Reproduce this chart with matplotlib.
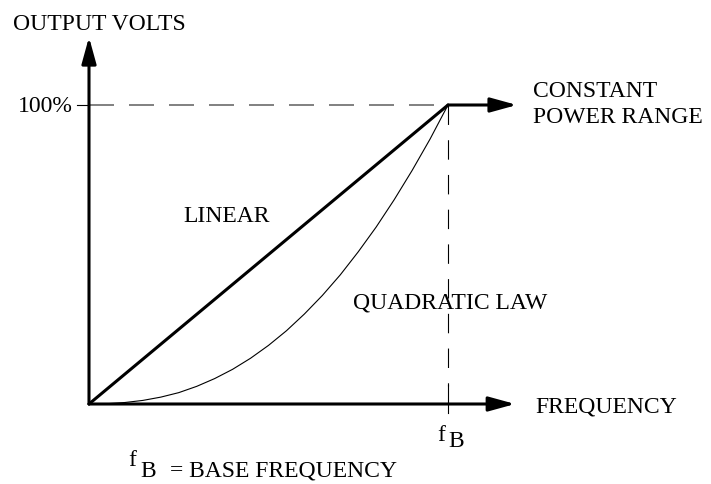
import matplotlib
matplotlib.use('Agg')
import matplotlib.pyplot as plt

# V/f characteristic: frequency as fraction of f_B, volts as fraction of 100%
freq = [0.0, 0.05, 0.1, 0.15, 0.2, 0.25, 0.3, 0.35, 0.4, 0.45, 0.5,
        0.55, 0.6, 0.65, 0.7, 0.75, 0.8, 0.85, 0.9, 0.95, 1.0]
volts_quad = [0.0, 0.001, 0.005, 0.012, 0.023, 0.038, 0.059, 0.085, 0.116, 0.153, 0.196,
              0.245, 0.301, 0.363, 0.432, 0.509, 0.592, 0.683, 0.781, 0.886, 1.0]
volts_lin = [0.0, 1.0]
freq_lin = [0.0, 1.0]
f_base = 1.0
v_full = 1.0
f_axis_end = 1.187
v_axis_end = 1.227
f_const_end = 1.192

plt.rcParams['font.family'] = ['Liberation Serif', 'DejaVu Serif']
plt.rcParams['lines.scale_dashes'] = False

fig = plt.figure(figsize=(7.11, 4.84), dpi=100)
ax = fig.add_axes([0, 0, 1, 1])
ax.set_xlim(-89 / 359, 622 / 359)
ax.set_ylim(-80 / 299, 404 / 299)
ax.axis('off')

arrow = dict(arrowstyle='-|>,head_length=0.8,head_width=0.22', mutation_scale=20,
             lw=2.2, color='black', shrinkA=0, shrinkB=0)

# axes with arrows
ax.annotate('', xy=(0, v_axis_end), xytext=(0, 0), arrowprops=arrow)
ax.annotate('', xy=(f_axis_end, 0), xytext=(0, 0), arrowprops=arrow)

# 100% guide and f_B guide
ax.plot([0, f_base], [v_full, v_full], color='#808080', lw=1.4, dashes=(18, 10.8))
ax.plot([-0.033, 0], [v_full, v_full], color='black', lw=0.8)
ax.plot([f_base, f_base], [v_full, 0.06], color='black', lw=0.8, dashes=(14, 11))
ax.plot([f_base, f_base], [0.065, -0.03], color='black', lw=0.8)

# curves
ax.plot(freq_lin, volts_lin, color='black', lw=2.2, solid_capstyle='round')
ax.plot(freq, volts_quad, color='black', lw=0.8)

# constant power range
ax.annotate('', xy=(f_const_end, v_full), xytext=(f_base, v_full), arrowprops=arrow)

fs = 17
ax.text(-0.212, 1.251, 'OUTPUT VOLTS', fontsize=fs, ha='left', va='baseline')
ax.text(-0.045, 0.977, '100%', fontsize=fs, ha='right', va='baseline')
ax.text(1.237, 1.027, 'CONSTANT', fontsize=fs, ha='left', va='baseline')
ax.text(1.237, 0.940, 'POWER RANGE', fontsize=fs, ha='left', va='baseline')
ax.text(1.242, -0.030, 'FREQUENCY', fontsize=fs, ha='left', va='baseline')
ax.text(0.262, 0.609, 'LINEAR', fontsize=fs, ha='left', va='baseline')
ax.text(0.735, 0.318, 'QUADRATIC LAW', fontsize=fs, ha='left', va='baseline')

# f_B under the axis
ax.text(0.969, -0.124, 'f', fontsize=fs, ha='left', va='baseline')
ax.text(1.0, -0.144, 'B', fontsize=fs, ha='left', va='baseline')

# legend line at the bottom
ax.text(0.109, -0.207, 'f', fontsize=fs, ha='left', va='baseline')
ax.text(0.142, -0.244, 'B', fontsize=fs, ha='left', va='baseline')
ax.text(0.226, -0.244, '= BASE FREQUENCY', fontsize=fs, ha='left', va='baseline')

fig.savefig('out.png', dpi=100)
